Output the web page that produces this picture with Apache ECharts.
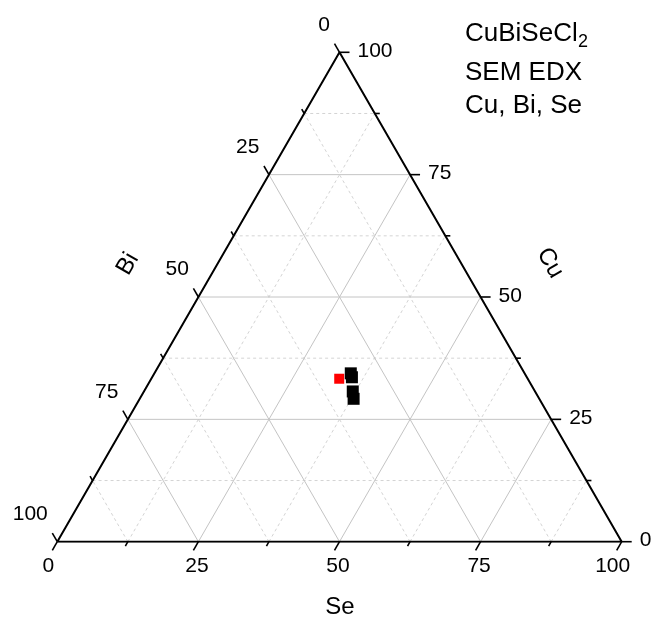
<!DOCTYPE html>
<html><head><meta charset="utf-8">
<script src="https://cdn.jsdelivr.net/npm/echarts@6/dist/echarts.min.js"></script>
<style>html,body{margin:0;padding:0;background:#fff}#c{width:651px;height:622px}</style>
</head><body><div id="c"></div>
<script>
// ---- data (atomic %, Se / Cu / Bi) ----
const idealSe = [33.3];
const idealCu = [33.3];
const idealBi = [33.4];
const edxSe = [34.8, 35.4, 37.0, 37.9];
const edxCu = [34.4, 33.6, 30.7, 29.2];
const edxBi = [30.8, 31.0, 32.3, 32.9];

const majorTicks = [0, 25, 50, 75, 100];
const minorTicks = [12.5, 37.5, 62.5, 87.5];
const tickLabels = ['0', '25', '50', '75', '100'];
const gridMajor = [25, 50, 75];
const gridMinor = [12.5, 37.5, 62.5, 87.5];
const axisTitles = ['Se', 'Cu', 'Bi'];
const noteLines = ['CuBiSeCl', 'SEM EDX', 'Cu, Bi, Se'];
const noteSub = '2';

// ---- ternary -> cartesian (Bi vertex at origin, Se at (100,0), Cu at top) ----
const SQ = Math.sqrt(3) / 2;
function tern(se, cu) { return [se + cu / 2, cu * SQ]; }

const FONT = 'Liberation Sans, Arial, sans-serif';

function gridRender(color, dash) {
  return function (params, api) {
    const v = api.value(0);
    const segs = [
      [tern(0, v), tern(100 - v, v)],
      [tern(v, 0), tern(v, 100 - v)],
      [tern(100 - v, 0), tern(0, 100 - v)]
    ];
    return {
      type: 'group',
      children: segs.map(s => {
        const a = api.coord(s[0]), b = api.coord(s[1]);
        return { type: 'line', shape: { x1: a[0], y1: a[1], x2: b[0], y2: b[1] },
          style: { stroke: color, lineWidth: 1, lineDash: dash } };
      })
    };
  };
}

function tickRender(len) {
  return function (params, api) {
    const v = api.value(0);
    const defs = [
      { p: api.coord(tern(v, 0)), d: [-0.5, SQ] },
      { p: api.coord(tern(100 - v, v)), d: [1, 0] },
      { p: api.coord(tern(0, 100 - v)), d: [-0.5, -SQ] }
    ];
    return {
      type: 'group',
      children: defs.map(t => ({ type: 'line',
        shape: { x1: t.p[0], y1: t.p[1], x2: t.p[0] + t.d[0] * len, y2: t.p[1] + t.d[1] * len },
        style: { stroke: '#000', lineWidth: 1.6 } }))
    };
  };
}

function labelRender(params, api) {
  const v = api.value(0);
  const txt = tickLabels[params.dataIndex];
  const se = api.coord(tern(v, 0));
  const cu = api.coord(tern(100 - v, v));
  const bi = api.coord(tern(0, 100 - v));
  const seDx = (v === 0 || v === 100) ? -9 : -1.5;
  const st = (a, va) => ({ text: txt, fill: '#000', fontSize: 21, fontFamily: FONT, align: a, verticalAlign: va });
  return {
    type: 'group',
    children: [
      { type: 'text', x: se[0] + seDx, y: se[1] + 25, style: st('center', 'middle') },
      { type: 'text', x: cu[0] + 18, y: cu[1] - 1, style: st('left', 'middle') },
      { type: 'text', x: bi[0] - 9.5, y: bi[1] - 27.5, style: st('right', 'middle') }
    ]
  };
}

function titleRender(params, api) {
  const seMid = api.coord(tern(50, 0));
  const cuMid = api.coord(tern(50, 50));
  const biMid = api.coord(tern(0, 50));
  const st = t => ({ text: t, fill: '#000', fontSize: 24, fontFamily: FONT, align: 'center', verticalAlign: 'middle' });
  return {
    type: 'group',
    children: [
      { type: 'text', x: seMid[0] + 0.5, y: seMid[1] + 66, style: st(axisTitles[0]) },
      { type: 'text', x: cuMid[0] + 69.5, y: cuMid[1] - 34, rotation: -Math.PI / 3, style: st(axisTitles[1]) },
      { type: 'text', x: biMid[0] - 70.5, y: biMid[1] - 33, rotation: Math.PI / 3, style: st(axisTitles[2]) }
    ]
  };
}

const triangle = [tern(0, 0), tern(100, 0), tern(0, 100), tern(0, 0)];

const option = {
  animation: false,
  backgroundColor: '#fff',
  grid: { left: 57.3, top: 52.3, width: 564.4, height: 489.4 },
  xAxis: { type: 'value', min: 0, max: 100, show: false },
  yAxis: { type: 'value', min: 0, max: 100 * SQ, show: false },
  graphic: [
    { type: 'text', x: 465, y: 33.5, style: { text: noteLines[0], fill: '#000', fontSize: 26, fontFamily: FONT, verticalAlign: 'middle' } },
    { type: 'text', x: 578, y: 42, style: { text: noteSub, fill: '#000', fontSize: 18, fontFamily: FONT, verticalAlign: 'middle' } },
    { type: 'text', x: 465, y: 73, style: { text: noteLines[1], fill: '#000', fontSize: 26, fontFamily: FONT, verticalAlign: 'middle' } },
    { type: 'text', x: 465, y: 105.5, style: { text: noteLines[2], fill: '#000', fontSize: 26, fontFamily: FONT, verticalAlign: 'middle' } }
  ],
  series: [
    { type: 'custom', coordinateSystem: 'cartesian2d', clip: false, silent: true,
      data: gridMinor.map(v => [v]), renderItem: gridRender('#d4d4d4', [3, 3]), z: 1 },
    { type: 'custom', coordinateSystem: 'cartesian2d', clip: false, silent: true,
      data: gridMajor.map(v => [v]), renderItem: gridRender('#c4c4c4', null), z: 2 },
    { type: 'line', data: triangle, symbol: 'none', silent: true,
      lineStyle: { color: '#000', width: 2 }, z: 3 },
    { type: 'custom', coordinateSystem: 'cartesian2d', clip: false, silent: true,
      data: majorTicks.map(v => [v]), renderItem: tickRender(10), z: 3 },
    { type: 'custom', coordinateSystem: 'cartesian2d', clip: false, silent: true,
      data: minorTicks.map(v => [v]), renderItem: tickRender(5), z: 3 },
    { type: 'custom', coordinateSystem: 'cartesian2d', clip: false, silent: true,
      data: majorTicks.map(v => [v]), renderItem: labelRender, z: 4 },
    { type: 'custom', coordinateSystem: 'cartesian2d', clip: false, silent: true,
      data: [[0]], renderItem: titleRender, z: 4 },
    { type: 'scatter', symbol: 'rect', symbolSize: 10, z: 5,
      itemStyle: { color: '#ff0000', opacity: 1 },
      data: idealSe.map((s, i) => tern(s, idealCu[i])) },
    { type: 'scatter', symbol: 'rect', symbolSize: 12, z: 6,
      itemStyle: { color: '#000', opacity: 1 },
      data: edxSe.map((s, i) => tern(s, edxCu[i])) }
  ]
};
echarts.init(document.getElementById('c'), null, { renderer: 'canvas' }).setOption(option);
</script>
</body></html>
